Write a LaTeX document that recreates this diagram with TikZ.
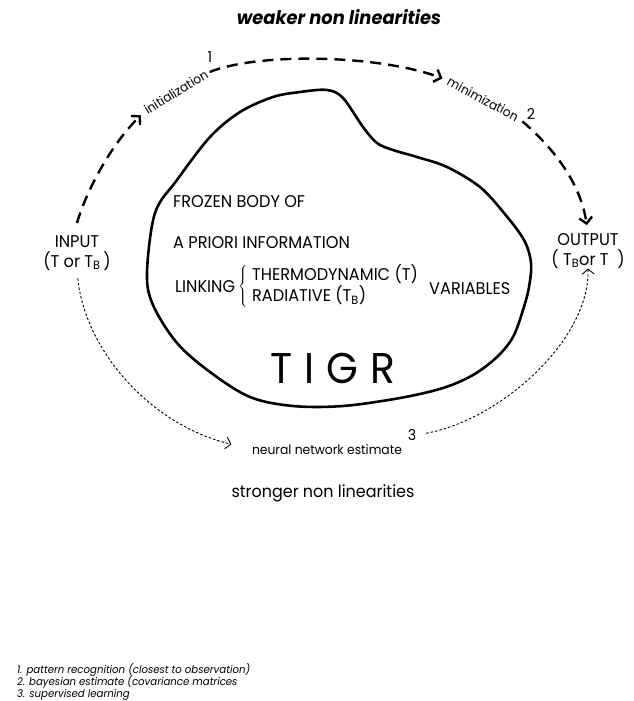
\documentclass[tikz,border=0pt]{standalone}
\usepackage{fontspec}
\setmainfont{Poppins}[FakeStretch=0.95]
\usetikzlibrary{arrows.meta,positioning}

\begin{document}
\begin{tikzpicture}
[x=1pt, y=-1pt,
every node/.style={inner sep=0pt},
caps/.style={font=\fontsize{17}{20}\selectfont},
step label/.style={font=\fontsize{12.8}{14}\selectfont},
digit/.style={font=\fontsize{15}{17}\selectfont},
legend/.style={anchor=base west, font=\itshape\fontsize{10.7}{12}\selectfont},
bayes/.style={line width=2.4pt, dash pattern=on 11pt off 7pt, -{Straight Barb[length=6pt,width=13pt]}},
neural/.style={line width=0.9pt, dash pattern=on 2.5pt off 2pt, -{Straight Barb[length=5pt,width=12pt]}}]
\useasboundingbox (0,0) rectangle (634,701);
\node[anchor=base, font=\bfseries\itshape\fontsize{18.8}{21}\selectfont] (weaker) at (339,25) {weaker non linearities};
\draw[line width=2.6pt] plot[smooth cycle, tension=0.55] coordinates {(300,92) (327,90) (343,98) (363,127) (377,143) (393,150) (417,157) (447,167) (480,187) (504,213) (524,240) (531,263) (529,287) (523,310) (513,337) (497,357) (473,375) (443,388) (400,398) (343,406) (293,406) (250,397) (210,372) (177,343) (153,305) (147,273) (155,213) (177,180) (210,137) (240,112) (273,97)};
\node[caps, anchor=base west] (frozen) at (173,207) {FROZEN BODY OF};
\node[caps, anchor=base west] (apriori) at (173,248) {A PRIORI INFORMATION};
\node[caps, anchor=base west] (linking) at (175,292) {LINKING};
\node[caps, right=3pt of linking] (kinds) {$\left\{\;\begin{tabular}{@{}l@{}}THERMODYNAMIC (T)\\RADIATIVE (T\textsubscript{B})\end{tabular}\right.$};
\node[caps, anchor=base west] (variables) at (429,294) {VARIABLES};
\node[anchor=base, font=\fontsize{43}{48}\selectfont] (tigr) at (333,383) {T\hspace{12pt}I\hspace{12pt}G\hspace{12pt}R};
\node[caps, anchor=north, align=center] (input) at (77,235) {INPUT\\(T or T\textsubscript{B}\,)};
\node[caps, anchor=north, align=center] (output) at (588,233) {OUTPUT\\( T\textsubscript{B}or T\ \ )};
\node[step label, rotate=31.5] (init) at (176,92) {initialization};
\node[digit] (n1) at (210,57) {1};
\node[step label, rotate=-28] (mini) at (483,99) {minimization};
\node[digit] (n2) at (531,114) {2};
\node[anchor=base, font=\fontsize{13}{15}\selectfont] (estimate) at (327,454) {neural network estimate};
\node[digit] (n3) at (412,435) {3};
\node[anchor=base, font=\fontsize{16.8}{19}\selectfont] (stronger) at (323,497) {stronger non linearities};
\node[legend] (leg1) at (17,673) {1. pattern recognition (closest to observation)};
\node[legend] (leg2) at (17,685) {2. bayesian estimate (covariance matrices};
\node[legend] (leg3) at (17,697) {3. supervised learning};
\draw[bayes, shorten >=6pt] ([yshift=12pt]input.north) .. controls (85,195) and (108,148) .. (init.west);
\draw[bayes, shorten <=3pt, shorten >=6pt] (init.east) .. controls (260,52) and (380,55) .. (mini.west);
\draw[bayes, shorten <=6pt, shorten >=8pt] (mini.east) .. controls (550,145) and (580,180) .. (output.north);
\draw[neural, shorten <=8pt, shorten >=21pt] (input.south) .. controls (85,350) and (150,425) .. (estimate.west);
\draw[neural, shorten <=10pt] (n3.east) .. controls (500,420) and (590,340) .. (output.south);
\end{tikzpicture}
\end{document}
